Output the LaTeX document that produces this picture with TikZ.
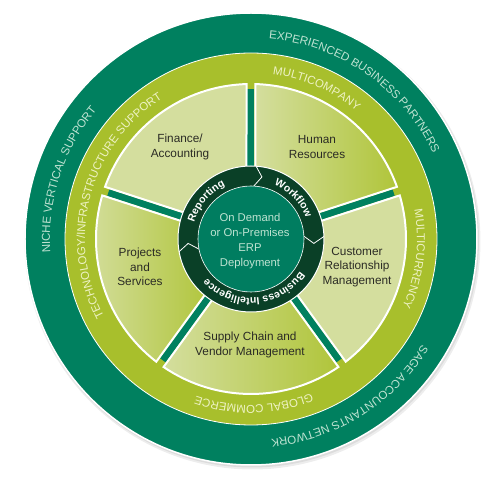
\documentclass[tikz,border=0pt]{standalone}
\usepackage{fontspec}
\setmainfont{Liberation Sans}
\usepackage{xcolor}
\usetikzlibrary{decorations.text}

\definecolor{ringteal}{HTML}{00805F}
\definecolor{ringlime}{HTML}{A8BF2C}
\definecolor{seglight}{HTML}{D4DE9E}
\definecolor{seglime}{HTML}{B0C53A}
\definecolor{hubdark}{HTML}{0A4027}
\definecolor{hubteal}{HTML}{007D60}
\definecolor{minttext}{HTML}{BFE3D2}
\definecolor{limetext}{HTML}{EEF2C4}
\definecolor{segtext}{HTML}{2B2B25}

\newcommand{\outerfont}{\fontsize{11.5}{14}\selectfont\color{minttext}}
\newcommand{\limefont}{\fontsize{11.5}{14}\selectfont\color{limetext}}
\newcommand{\hubfont}{\fontsize{10.5}{12}\selectfont\bfseries\color{white}}

\tikzset{
  spoke/.style={draw=ringteal, line width=7pt},
  module/.style={draw=white, line width=2pt},
  modlabel/.style={text=segtext, align=center, font=\fontsize{11.8}{14.5}\selectfont},
  curvedlabel/.style 2 args={decorate, decoration={text along path, text align=center, text={|#1|#2}}},
}

\begin{document}
\begin{tikzpicture}[x=1pt, y=1pt]
    \useasboundingbox (-251,-245) rectangle (248,239);

    % soft shadow under the wheel
    \fill[black, opacity=0.07] (1.5,-2.5) circle[radius=228];
    \fill[black, opacity=0.07] (1,-1.5) circle[radius=227];

    % outer rings
    \draw[white, line width=1.5pt, fill=ringteal] (0,0) circle[radius=226];
    \draw[white, line width=0.8pt, fill=ringlime] (0,0) circle[radius=186];

    % spokes between the modules
    \foreach \a in {18,90,162,234,306}
        \draw[spoke] (\a:60) -- (\a:150);

    % the five modules
    \foreach \a/\b/\lc/\rc in {90/162/seglight/seglight, 18/90/seglight/seglime,
                               -54/18/seglight/seglight, 234/306/seglight/seglime,
                               162/234/seglight/seglime}
        \draw[module, left color=\lc, right color=\rc]
            ({\a+asin(4.5/60)}:60) -- ({\a+asin(4.5/155)}:155)
            arc[start angle={\a+asin(4.5/155)}, end angle={\b-asin(4.5/155)}, radius=155]
            -- ({\b-asin(4.5/60)}:60) -- cycle;

    % hub with the three arrows
    \draw[white, line width=1pt, fill=hubdark] (0,0) circle[radius=73];
    \foreach \t in {84,0,188}
        \draw[white, line width=0.8pt] ({\t+2}:73) -- ({\t-4}:63) -- ({\t+3}:53);
    \draw[white, line width=0.6pt, fill=hubteal] (0,0) circle[radius=53];

    \node[text=minttext, align=center, font=\fontsize{11.3}{15}\selectfont] (erp) at (-1,-2)
        {On Demand\\or On-Premises\\ERP\\Deployment};

    % module labels
    \node[modlabel] (finance) at (-71,92) {Finance/\\Accounting};
    \node[modlabel] (hr) at (66,92) {Human\\Resources};
    \node[modlabel] (crm) at (106,-28) {Customer\\Relationship\\Management};
    \node[modlabel] (supply) at (-1,-106) {Supply Chain and\\Vendor Management};
    \node[modlabel] (projects) at (-111,-28) {Projects\\and\\Services};

    % curved ring texts, all running clockwise
    \foreach \c/\r/\fmt/\txt in {55/201/\outerfont/{EXPERIENCED BUSINESS PARTNERS},
                                 162/201/\outerfont/{NICHE VERTICAL SUPPORT},
                                 -58/201/\outerfont/{SAGE ACCOUNTANTS NETWORK},
                                 66.5/166/\limefont/{MULTICOMPANY},
                                 -7/166/\limefont/{MULTICURRENCY},
                                 -89/166/\limefont/{GLOBAL COMMERCE},
                                 165/166/\limefont/{TECHNOLOGY/INFRASTRUCTURE SUPPORT},
                                 140/59/\hubfont/{Reporting},
                                 44/59/\hubfont/{Workflow},
                                 -86/59/\hubfont/{Business Intelligence}}
        \path[curvedlabel={\fmt}{\txt}] ({\c+80}:\r) arc[start angle={\c+80}, end angle={\c-80}, radius=\r];
\end{tikzpicture}
\end{document}
